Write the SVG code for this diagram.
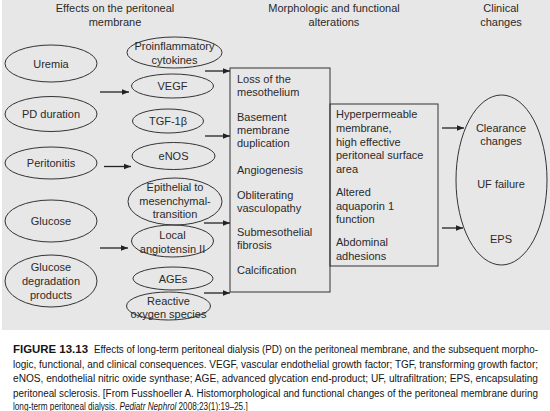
<svg xmlns="http://www.w3.org/2000/svg" width="550" height="411" viewBox="0 0 550 411">
<style>
text{font-family:"Liberation Sans",Arial,sans-serif;font-size:11px;fill:#2a2a2a}
.c{text-anchor:middle}
.n{fill:none;stroke:#333;stroke-width:1}
.cap{font-size:10px;fill:#151515}
.con line{stroke:#222;stroke-width:1.3}
</style>
<defs>
<marker id="ah" viewBox="0 0 10 10" refX="10" refY="5" markerWidth="7" markerHeight="7" markerUnits="userSpaceOnUse" orient="auto"><path d="M0,1 L10,5 L0,9 z" fill="#222"/></marker>
</defs>
<rect x="0" y="0" width="550" height="411" fill="#fff"/>
<rect x="2" y="0" width="548" height="330" fill="#e7e7e7"/>
<g id="headers">
<text class="c" x="115" y="12">Effects on the peritoneal</text>
<text class="c" x="115" y="26">membrane</text>
<text class="c" x="334" y="12">Morphologic and functional</text>
<text class="c" x="334" y="26">alterations</text>
<text class="c" x="501" y="12">Clinical</text>
<text class="c" x="501" y="26">changes</text>
</g>
<g id="uremia"><ellipse class="n" cx="51" cy="63.5" rx="46" ry="18.5"/><text class="c" x="51" y="67.5">Uremia</text></g>
<g id="pd-duration"><ellipse class="n" cx="51" cy="114" rx="46" ry="17.5"/><text class="c" x="51" y="118">PD duration</text></g>
<g id="peritonitis"><ellipse class="n" cx="51" cy="163" rx="46" ry="16"/><text class="c" x="51" y="167">Peritonitis</text></g>
<g id="glucose"><ellipse class="n" cx="51" cy="221" rx="46" ry="21"/><text class="c" x="51" y="225">Glucose</text></g>
<g id="gdp"><ellipse class="n" cx="51" cy="281" rx="46" ry="26"/><text class="c" x="51" y="271">Glucose</text><text class="c" x="51" y="285">degradation</text><text class="c" x="51" y="299">products</text></g>
<g id="cytokines"><ellipse class="n" cx="174.5" cy="52.5" rx="47.5" ry="15.5"/><text class="c" x="174.5" y="50">Proinflammatory</text><text class="c" x="174.5" y="64">cytokines</text></g>
<g id="vegf"><ellipse class="n" cx="172.5" cy="86" rx="41" ry="12"/><text class="c" x="172.5" y="90">VEGF</text></g>
<g id="tgf"><ellipse class="n" cx="168" cy="121" rx="35.5" ry="12"/><text class="c" x="168" y="125">TGF-1β</text></g>
<g id="enos"><ellipse class="n" cx="173.5" cy="156" rx="41.5" ry="13.5"/><text class="c" x="173.5" y="160">eNOS</text></g>
<g id="emt"><ellipse class="n" cx="175" cy="201.5" rx="47" ry="23.5"/><text class="c" x="175" y="191">Epithelial to</text><text class="c" x="175" y="204.5">mesenchymal-</text><text class="c" x="175" y="218">transition</text></g>
<g id="angiotensin"><ellipse class="n" cx="172.5" cy="241" rx="41" ry="16"/><text class="c" x="172.5" y="239">Local</text><text class="c" x="172.5" y="253">angiotensin II</text></g>
<g id="ages"><ellipse class="n" cx="173" cy="278.5" rx="40" ry="11.5"/><text class="c" x="173" y="282.5">AGEs</text></g>
<g id="ros"><ellipse class="n" cx="168.5" cy="306" rx="42" ry="14"/><text class="c" x="168.5" y="305">Reactive</text><text class="c" x="168.5" y="318">oxygen species</text></g>
<g id="morpho-box"><rect class="n" x="230" y="68" width="100" height="224"/>
<text x="237" y="83">Loss of the</text><text x="237" y="95.5">mesothelium</text>
<text x="237" y="121">Basement</text><text x="237" y="134">membrane</text><text x="237" y="147">duplication</text>
<text x="237" y="174">Angiogenesis</text>
<text x="237" y="199">Obliterating</text><text x="237" y="211.5">vasculopathy</text>
<text x="237" y="236">Submesothelial</text><text x="237" y="248.5">fibrosis</text>
<text x="237" y="274">Calcification</text></g>
<g id="functional-box"><rect class="n" x="330" y="104" width="108" height="162"/>
<text x="336" y="118">Hyperpermeable</text><text x="336" y="132">membrane,</text><text x="336" y="146">high effective</text><text x="336" y="159">peritoneal surface</text><text x="336" y="172.5">area</text>
<text x="336" y="196">Altered</text><text x="336" y="210">aquaporin 1</text><text x="336" y="223">function</text>
<text x="336" y="246">Abdominal</text><text x="336" y="260">adhesions</text></g>
<g id="clinical"><ellipse class="n" cx="501.5" cy="180" rx="45.5" ry="85"/>
<text class="c" x="501" y="132">Clearance</text><text class="c" x="501" y="145">changes</text>
<text class="c" x="501" y="188">UF failure</text>
<text class="c" x="501" y="243">EPS</text></g>
<g class="con" id="connectors">
<line x1="100" y1="92" x2="129" y2="92" marker-end="url(#ah)"/>
<line x1="104" y1="166.5" x2="131" y2="166.5" marker-end="url(#ah)"/>
<line x1="100" y1="248" x2="128" y2="248" marker-end="url(#ah)"/>
<line x1="205" y1="71" x2="230" y2="71" marker-end="url(#ah)"/>
<line x1="205" y1="136" x2="230" y2="136" marker-end="url(#ah)"/>
<line x1="204" y1="223" x2="230" y2="223" marker-end="url(#ah)"/>
<line x1="204" y1="293" x2="230" y2="293" marker-end="url(#ah)"/>
<line x1="442" y1="128" x2="464" y2="128" marker-end="url(#ah)"/>
<line x1="442" y1="228" x2="463" y2="228" marker-end="url(#ah)"/>
</g>
<g id="caption">
<text class="cap" x="13" y="353" font-weight="bold" fill="#333" textLength="75" lengthAdjust="spacingAndGlyphs">FIGURE 13.13</text>
<text class="cap" x="94" y="353" textLength="444" lengthAdjust="spacingAndGlyphs">Effects of long-term peritoneal dialysis (PD) on the peritoneal membrane, and the subsequent morpho-</text>
<text class="cap" x="13" y="367.5" textLength="525" lengthAdjust="spacingAndGlyphs">logic, functional, and clinical consequences. VEGF, vascular endothelial growth factor; TGF, transforming growth factor;</text>
<text class="cap" x="13" y="382" textLength="525" lengthAdjust="spacingAndGlyphs">eNOS, endothelial nitric oxide synthase; AGE, advanced glycation end-product; UF, ultrafiltration; EPS, encapsulating</text>
<text class="cap" x="13" y="396.5" textLength="525" lengthAdjust="spacingAndGlyphs">peritoneal sclerosis. [From Fusshoeller A. Histomorphological and functional changes of the peritoneal membrane during</text>
<text class="cap" transform="translate(13,410) scale(0.82,1)">long-term peritoneal dialysis. <tspan font-style="italic">Pediatr Nephrol</tspan> 2008;23(1):19–25.]</text>
</g>
</svg>
